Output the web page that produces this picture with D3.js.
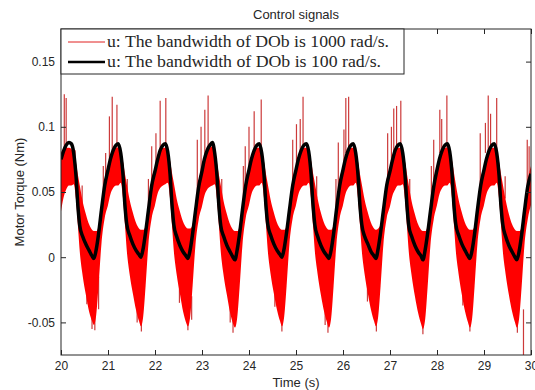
<!DOCTYPE html>
<html>
<head>
<meta charset="utf-8">
<script src="https://cdn.jsdelivr.net/npm/d3@7"></script>
<style>
  body { margin: 0; background: #fff; }
  text { font-family: "Liberation Sans", Arial, sans-serif; fill: #262626; }
</style>
</head>
<body>
<div class="chart"></div>
<script>
// time grid inside one period (s after each whole second)
const phase = [0.00, 0.05, 0.11, 0.17, 0.22, 0.27, 0.32, 0.36, 0.40, 0.46, 0.53, 0.60, 0.66, 0.70, 0.75, 0.80, 0.86, 0.93];
const cycleStart = [20, 21, 22, 23, 24, 25, 26, 27, 28, 29];

// u with DOb bandwidth 100 rad/s (black)
const blackU = [
  [0.075, 0.081, 0.086, 0.088, 0.087, 0.080, 0.062, 0.039, 0.024, 0.016, 0.010, 0.005, 0.001, -0.001, 0.006, 0.018, 0.036, 0.055],
  [0.067, 0.075, 0.082, 0.086, 0.087, 0.080, 0.063, 0.040, 0.025, 0.017, 0.010, 0.005, 0.002, 0.000, 0.007, 0.019, 0.036, 0.055],
  [0.066, 0.074, 0.082, 0.086, 0.087, 0.081, 0.064, 0.041, 0.025, 0.016, 0.009, 0.004, 0.001, -0.001, 0.006, 0.018, 0.035, 0.054],
  [0.066, 0.075, 0.082, 0.086, 0.088, 0.080, 0.062, 0.039, 0.024, 0.016, 0.009, 0.004, 0.000, -0.002, 0.006, 0.018, 0.036, 0.055],
  [0.067, 0.075, 0.082, 0.086, 0.087, 0.080, 0.063, 0.040, 0.025, 0.017, 0.010, 0.005, 0.002, 0.000, 0.007, 0.019, 0.036, 0.055],
  [0.067, 0.075, 0.082, 0.086, 0.087, 0.081, 0.064, 0.041, 0.025, 0.016, 0.009, 0.004, 0.001, -0.001, 0.006, 0.018, 0.036, 0.055],
  [0.067, 0.075, 0.082, 0.086, 0.087, 0.080, 0.063, 0.040, 0.025, 0.016, 0.010, 0.004, 0.001, -0.001, 0.007, 0.019, 0.036, 0.055],
  [0.066, 0.074, 0.082, 0.086, 0.087, 0.080, 0.063, 0.040, 0.024, 0.016, 0.009, 0.004, 0.001, -0.002, 0.006, 0.018, 0.035, 0.054],
  [0.067, 0.075, 0.082, 0.086, 0.087, 0.081, 0.064, 0.040, 0.025, 0.017, 0.010, 0.005, 0.001, -0.001, 0.006, 0.018, 0.036, 0.055],
  [0.067, 0.075, 0.082, 0.086, 0.087, 0.080, 0.063, 0.040, 0.025, 0.016, 0.009, 0.004, 0.000, -0.002, 0.005, 0.017, 0.035, 0.054]
];

// u with DOb bandwidth 1000 rad/s (red): upper and lower edge of the noisy band
const redUpper = [
  [0.080, 0.083, 0.084, 0.084, 0.083, 0.078, 0.072, 0.063, 0.055, 0.043, 0.033, 0.025, 0.021, 0.020, 0.020, 0.024, 0.042, 0.060],
  [0.070, 0.077, 0.082, 0.084, 0.084, 0.079, 0.073, 0.064, 0.056, 0.044, 0.034, 0.026, 0.022, 0.021, 0.021, 0.024, 0.042, 0.060],
  [0.069, 0.076, 0.082, 0.084, 0.084, 0.080, 0.074, 0.065, 0.057, 0.045, 0.035, 0.027, 0.023, 0.022, 0.022, 0.025, 0.041, 0.059],
  [0.069, 0.077, 0.082, 0.084, 0.085, 0.079, 0.072, 0.063, 0.055, 0.043, 0.033, 0.025, 0.021, 0.020, 0.020, 0.024, 0.042, 0.060],
  [0.070, 0.077, 0.082, 0.084, 0.084, 0.079, 0.073, 0.064, 0.056, 0.044, 0.034, 0.026, 0.022, 0.021, 0.021, 0.024, 0.042, 0.060],
  [0.070, 0.077, 0.082, 0.084, 0.084, 0.080, 0.074, 0.065, 0.057, 0.045, 0.034, 0.026, 0.022, 0.021, 0.021, 0.025, 0.042, 0.060],
  [0.070, 0.077, 0.082, 0.084, 0.084, 0.079, 0.073, 0.064, 0.056, 0.044, 0.034, 0.026, 0.022, 0.021, 0.022, 0.025, 0.042, 0.060],
  [0.069, 0.076, 0.082, 0.084, 0.084, 0.079, 0.073, 0.064, 0.055, 0.043, 0.033, 0.025, 0.021, 0.020, 0.020, 0.024, 0.041, 0.059],
  [0.070, 0.077, 0.082, 0.084, 0.084, 0.080, 0.074, 0.065, 0.056, 0.044, 0.034, 0.026, 0.022, 0.021, 0.021, 0.024, 0.042, 0.060],
  [0.070, 0.077, 0.082, 0.084, 0.084, 0.079, 0.073, 0.064, 0.056, 0.044, 0.033, 0.025, 0.021, 0.020, 0.020, 0.023, 0.041, 0.059]
];
const redLower = [
  [0.035, 0.045, 0.052, 0.055, 0.055, 0.056, 0.044, 0.024, 0.004, -0.014, -0.029, -0.042, -0.049, -0.052, -0.044, -0.021, 0.010, 0.030],
  [0.040, 0.048, 0.053, 0.055, 0.055, 0.057, 0.045, 0.025, 0.005, -0.013, -0.028, -0.041, -0.049, -0.053, -0.045, -0.022, 0.010, 0.030],
  [0.040, 0.048, 0.053, 0.055, 0.056, 0.057, 0.045, 0.025, 0.005, -0.013, -0.028, -0.042, -0.050, -0.053, -0.045, -0.022, 0.009, 0.029],
  [0.039, 0.047, 0.052, 0.054, 0.055, 0.056, 0.044, 0.024, 0.004, -0.014, -0.029, -0.043, -0.051, -0.054, -0.046, -0.023, 0.009, 0.030],
  [0.040, 0.048, 0.053, 0.055, 0.055, 0.057, 0.045, 0.025, 0.005, -0.013, -0.028, -0.041, -0.049, -0.053, -0.045, -0.022, 0.010, 0.030],
  [0.040, 0.048, 0.053, 0.055, 0.055, 0.057, 0.045, 0.025, 0.005, -0.013, -0.029, -0.042, -0.050, -0.054, -0.046, -0.022, 0.010, 0.030],
  [0.040, 0.048, 0.053, 0.055, 0.055, 0.057, 0.045, 0.025, 0.005, -0.013, -0.028, -0.041, -0.049, -0.053, -0.045, -0.022, 0.010, 0.030],
  [0.039, 0.047, 0.052, 0.055, 0.055, 0.056, 0.044, 0.024, 0.004, -0.014, -0.030, -0.043, -0.051, -0.055, -0.047, -0.023, 0.009, 0.029],
  [0.040, 0.048, 0.053, 0.055, 0.055, 0.057, 0.045, 0.025, 0.005, -0.013, -0.029, -0.042, -0.050, -0.054, -0.046, -0.022, 0.010, 0.030],
  [0.040, 0.048, 0.053, 0.055, 0.055, 0.057, 0.045, 0.025, 0.005, -0.013, -0.029, -0.042, -0.050, -0.054, -0.046, -0.023, 0.009, 0.029]
];
// last sample at t = 30
const endPoint = { t: 30, black: 0.064, up: 0.070, lo: 0.040 };

// thin spikes of the red signal: [time, from, to]
const spikes = [
  [20.07, 0.075, 0.125], [20.11, 0.080, 0.122], [20.30, 0.070, 0.082], [20.45, 0.040, 0.055], [20.55, -0.020, -0.036], [20.66, -0.045, -0.055], [20.72, -0.045, -0.056], [20.80, -0.015, -0.040],
  [20.90, 0.040, 0.070], [20.95, 0.060, 0.080], [21.03, 0.070, 0.108], [21.09, 0.075, 0.123], [21.19, 0.080, 0.117], [21.41, 0.045, 0.060], [21.62, -0.040, -0.050], [21.71, -0.045, -0.057],
  [21.86, 0.030, 0.060], [21.93, 0.050, 0.085], [22.02, 0.070, 0.095], [22.11, 0.080, 0.120], [22.23, 0.078, 0.122], [22.52, -0.020, -0.035], [22.70, -0.045, -0.056], [22.78, -0.030, -0.048],
  [22.90, 0.050, 0.090], [22.98, 0.065, 0.100], [23.06, 0.075, 0.113], [23.13, 0.080, 0.124], [23.42, 0.045, 0.060], [23.60, -0.038, -0.050], [23.66, -0.040, -0.058],
  [23.88, 0.040, 0.070], [23.92, 0.050, 0.085], [24.00, 0.070, 0.100], [24.11, 0.080, 0.112], [24.26, 0.070, 0.121], [24.55, -0.025, -0.038], [24.70, -0.045, -0.057],
  [24.93, 0.055, 0.090], [25.01, 0.070, 0.102], [25.09, 0.078, 0.106], [25.15, 0.080, 0.123], [25.44, 0.045, 0.062], [25.62, -0.040, -0.052], [25.68, -0.045, -0.058],
  [25.85, 0.030, 0.060], [25.90, 0.050, 0.088], [26.02, 0.070, 0.098], [26.06, 0.080, 0.122], [26.12, 0.080, 0.123], [26.52, -0.020, -0.034], [26.71, -0.045, -0.057],
  [26.95, 0.060, 0.095], [27.03, 0.070, 0.100], [27.08, 0.080, 0.114], [27.14, 0.080, 0.116], [27.23, 0.075, 0.120], [27.42, 0.045, 0.060], [27.70, -0.048, -0.059],
  [27.88, 0.040, 0.070], [27.93, 0.050, 0.090], [28.06, 0.080, 0.113], [28.10, 0.080, 0.106], [28.21, 0.075, 0.124], [28.55, -0.025, -0.037], [28.70, -0.045, -0.057],
  [28.92, 0.050, 0.095], [29.03, 0.080, 0.103], [29.09, 0.080, 0.124], [29.14, 0.080, 0.110], [29.27, 0.070, 0.122], [29.45, 0.045, 0.062],
  [29.71, -0.045, -0.058], [29.84, -0.040, -0.090], [29.92, 0.045, 0.090], [29.96, 0.055, 0.085]
];

const xTicks = [20, 21, 22, 23, 24, 25, 26, 27, 28, 29, 30];
const yTicks = [-0.05, 0, 0.05, 0.1, 0.15];
const legendLabels = ["u:  The bandwidth of DOb is 1000 rad/s.", "u:  The bandwidth of DOb is 100 rad/s."];

const width = 535, height = 390,
  margin = { top: 29, right: 4, bottom: 35, left: 61 };

// rows for the lines
const rows = [];
cycleStart.forEach((t0, i) => {
  phase.forEach((p, j) => {
    rows.push({ t: t0 + p, black: blackU[i][j], up: redUpper[i][j], lo: redLower[i][j] });
  });
});
rows.push(endPoint);

const x = d3.scaleLinear().domain([20, 30]).range([margin.left, width - margin.right]);
const y = d3.scaleLinear().domain([-0.075, 0.175]).range([height - margin.bottom, margin.top]);

const svg = d3.select(".chart").append("svg")
  .attr("width", width)
  .attr("height", height);

svg.append("defs").append("clipPath").attr("id", "plot")
  .append("rect")
  .attr("x", margin.left).attr("y", margin.top)
  .attr("width", x.range()[1] - x.range()[0])
  .attr("height", y.range()[0] - y.range()[1]);

const plot = svg.append("g").attr("clip-path", "url(#plot)");

// red spikes, under the band
plot.append("g")
  .attr("stroke", "#cc3a3a")
  .attr("stroke-width", 1.2)
  .selectAll("line")
  .data(spikes)
  .join("line")
  .attr("x1", d => x(d[0])).attr("x2", d => x(d[0]))
  .attr("y1", d => y(d[1])).attr("y2", d => y(d[2]));

// red band
plot.append("path")
  .datum(rows)
  .attr("fill", "#ff0000")
  .attr("d", d3.area().x(d => x(d.t)).y0(d => y(d.lo)).y1(d => y(d.up)).curve(d3.curveMonotoneX));

// black line
plot.append("path")
  .datum(rows)
  .attr("fill", "none")
  .attr("stroke", "#000")
  .attr("stroke-width", 3.5)
  .attr("stroke-linejoin", "round")
  .attr("d", d3.line().x(d => x(d.t)).y(d => y(d.black)).curve(d3.curveMonotoneX));

// axes, ticks pointing inside
const fmtY = d => String(+d.toFixed(2));
const axisStyle = g => {
  g.select(".domain").remove();
  g.selectAll(".tick line").attr("stroke", "#262626");
  g.selectAll(".tick text").attr("fill", "#262626").style("font-size", "12px");
};
svg.append("g")
  .attr("transform", `translate(0,${height - margin.bottom})`)
  .call(d3.axisBottom(x).tickValues(xTicks).tickSizeInner(-5).tickSizeOuter(0).tickPadding(6).tickFormat(d3.format("d")))
  .call(axisStyle);
svg.append("g")
  .attr("transform", `translate(0,${margin.top})`)
  .call(d3.axisTop(x).tickValues(xTicks).tickSizeInner(-5).tickSizeOuter(0).tickFormat(""))
  .call(axisStyle);
svg.append("g")
  .attr("transform", `translate(${margin.left},0)`)
  .call(d3.axisLeft(y).tickValues(yTicks).tickSizeInner(-5).tickSizeOuter(0).tickPadding(6).tickFormat(fmtY))
  .call(axisStyle);
svg.append("g")
  .attr("transform", `translate(${width - margin.right},0)`)
  .call(d3.axisRight(y).tickValues(yTicks).tickSizeInner(-5).tickSizeOuter(0).tickFormat(""))
  .call(axisStyle);

svg.append("rect")
  .attr("x", margin.left).attr("y", margin.top)
  .attr("width", x.range()[1] - x.range()[0])
  .attr("height", y.range()[0] - y.range()[1])
  .attr("fill", "none")
  .attr("stroke", "#262626");

// titles
svg.append("text")
  .attr("x", (x.range()[0] + x.range()[1]) / 2).attr("y", 19)
  .attr("text-anchor", "middle")
  .style("font-size", "13px")
  .text("Control signals");
svg.append("text")
  .attr("x", (x.range()[0] + x.range()[1]) / 2).attr("y", 387)
  .attr("text-anchor", "middle")
  .style("font-size", "13px")
  .text("Time (s)");
svg.append("text")
  .attr("transform", `translate(24,${(y.range()[0] + y.range()[1]) / 2}) rotate(-90)`)
  .attr("text-anchor", "middle")
  .style("font-size", "13px")
  .text("Motor Torque (Nm)");

// legend
const legend = svg.append("g");
legend.append("rect")
  .attr("x", margin.left).attr("y", margin.top)
  .attr("width", 343).attr("height", 45)
  .attr("fill", "#fff").attr("stroke", "#262626");
const legendColors = ["#e02020", "#000"];
const legendWidths = [1, 2.5];
const legendTextLen = [282, 274];
legendLabels.forEach((lab, i) => {
  const ly = 42 + i * 20;
  legend.append("line")
    .attr("x1", 68).attr("x2", 105)
    .attr("y1", ly).attr("y2", ly)
    .attr("stroke", legendColors[i])
    .attr("stroke-width", legendWidths[i]);
  legend.append("text")
    .attr("x", 107).attr("y", ly + 5)
    .attr("textLength", legendTextLen[i])
    .attr("lengthAdjust", "spacingAndGlyphs")
    .style("font-family", "'Liberation Serif', serif")
    .style("font-size", "16px")
    .attr("fill", "#000")
    .text(lab);
});
</script>
</body>
</html>
